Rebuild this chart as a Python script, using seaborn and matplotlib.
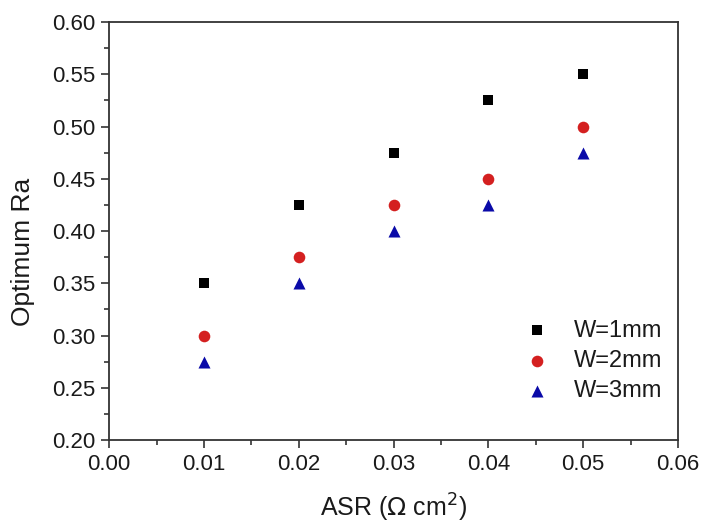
import pandas as pd
import numpy as np
import matplotlib.pyplot as plt
import seaborn as sns
from matplotlib.ticker import MultipleLocator

asr = [0.01, 0.02, 0.03, 0.04, 0.05]
ra_w1 = [0.35, 0.425, 0.475, 0.525, 0.55]
ra_w2 = [0.30, 0.375, 0.425, 0.45, 0.50]
ra_w3 = [0.275, 0.35, 0.40, 0.425, 0.475]
series = ["W=1mm", "W=2mm", "W=3mm"]

df = pd.DataFrame({
    "ASR": asr * 3,
    "Ra": ra_w1 + ra_w2 + ra_w3,
    "W": [s for s in series for _ in asr],
})

sns.set_style("ticks")
plt.rcParams["font.family"] = ["Liberation Sans", "DejaVu Sans"]
plt.rcParams["text.color"] = "#1a1a1a"
plt.rcParams["axes.labelcolor"] = "#1a1a1a"
plt.rcParams["xtick.labelcolor"] = "#1a1a1a"
plt.rcParams["ytick.labelcolor"] = "#1a1a1a"

fig = plt.figure(figsize=(7.04, 5.27), dpi=100)
ax = fig.add_axes([0.155, 0.165, 0.808, 0.793])

palette = {"W=1mm": "#000000", "W=2mm": "#d42020", "W=3mm": "#0a0aa8"}
markers = {"W=1mm": "s", "W=2mm": "o", "W=3mm": "^"}
sizes = {"W=1mm": 55, "W=2mm": 70, "W=3mm": 75}

for name in series:
    sub = df[df["W"] == name]
    sns.scatterplot(data=sub, x="ASR", y="Ra", color=palette[name], marker=markers[name],
                    s=sizes[name], linewidth=0, ax=ax, label=name)

ax.set_xlim(0, 0.06)
ax.set_ylim(0.2, 0.6)
ax.xaxis.set_major_locator(MultipleLocator(0.01))
ax.xaxis.set_minor_locator(MultipleLocator(0.005))
ax.yaxis.set_major_locator(MultipleLocator(0.05))
ax.yaxis.set_minor_locator(MultipleLocator(0.025))
ax.xaxis.set_major_formatter(plt.FormatStrFormatter("%.2f"))
ax.yaxis.set_major_formatter(plt.FormatStrFormatter("%.2f"))
ax.tick_params(which="major", direction="out", length=6, width=1.2, labelsize=16,
               color="#333333", pad=4)
ax.tick_params(which="minor", direction="out", length=3.5, width=1.2, color="#333333")
for sp in ax.spines.values():
    sp.set_linewidth(1.3)
    sp.set_color("#333333")

ax.set_xlabel("ASR ($\\Omega$ cm$^2$)", fontsize=18, labelpad=12)
ax.set_ylabel("Optimum Ra", fontsize=19)
ax.yaxis.set_label_coords(-0.13, 0.45)

ax.legend(loc="lower right", bbox_to_anchor=(1.01, 0.04), frameon=False, fontsize=17,
          handletextpad=0.8, labelspacing=0.35, markerscale=1.0, handlelength=1.5)

fig.savefig("out.png", dpi=100)
